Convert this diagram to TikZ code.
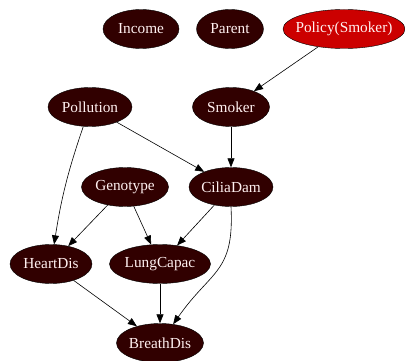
\documentclass[tikz,border=0pt]{standalone}
\usepackage{fontspec}
\setmainfont{Liberation Serif}
\usetikzlibrary{shapes.geometric,arrows.meta}
\definecolor{nodefill}{HTML}{310000}
\definecolor{nodetext}{HTML}{FFF0F0}
\definecolor{policyfill}{HTML}{CC0000}

\begin{document}
\begin{tikzpicture}[x=1pt,y=-1pt,
  var/.style={ellipse,draw=black,fill=nodefill,text=nodetext,inner xsep=-10pt,inner ysep=-3pt,minimum height=39pt,font=\fontsize{15.3}{18}\selectfont},
  act/.style={var,fill=policyfill},
  link/.style={-{Triangle[length=9pt,width=7pt]},line width=0.6pt}]
\useasboundingbox (0,0) rectangle (405,361);
% top row
\node[var,minimum width=76pt] (income) at (141,29) {Income};
\node[var,minimum width=67pt] (parent) at (230,29) {Parent};
\node[act,minimum width=122pt] (policy) at (344,29) {Policy(Smoker)};
% middle
\node[var,minimum width=84pt] (pollution) at (90,107) {Pollution};
\node[var,minimum width=77pt] (smoker) at (231,107) {Smoker};
\node[var,minimum width=87pt] (genotype) at (125,187) {Genotype};
\node[var,minimum width=84pt] (ciliadam) at (231,187) {CiliaDam};
\node[var,minimum width=82pt] (heartdis) at (51,264) {HeartDis};
\node[var,minimum width=101pt] (lungcapac) at (160,264) {LungCapac};
\node[var,minimum width=87pt] (breathdis) at (160,343) {BreathDis};

\draw[link] (policy) -- (smoker);
\draw[link] (pollution) -- (ciliadam);
\draw[link] (pollution) to[bend right=5] (heartdis);
\draw[link] (smoker) -- (ciliadam);
\draw[link] (genotype) -- (heartdis);
\draw[link] (genotype) -- (lungcapac);
\draw[link] (ciliadam) -- (lungcapac);
\draw[link] (ciliadam.south) to[out=-87,in=55,looseness=1.3] (breathdis);
\draw[link] (heartdis) -- (breathdis);
\draw[link] (lungcapac) -- (breathdis);
\end{tikzpicture}
\end{document}
